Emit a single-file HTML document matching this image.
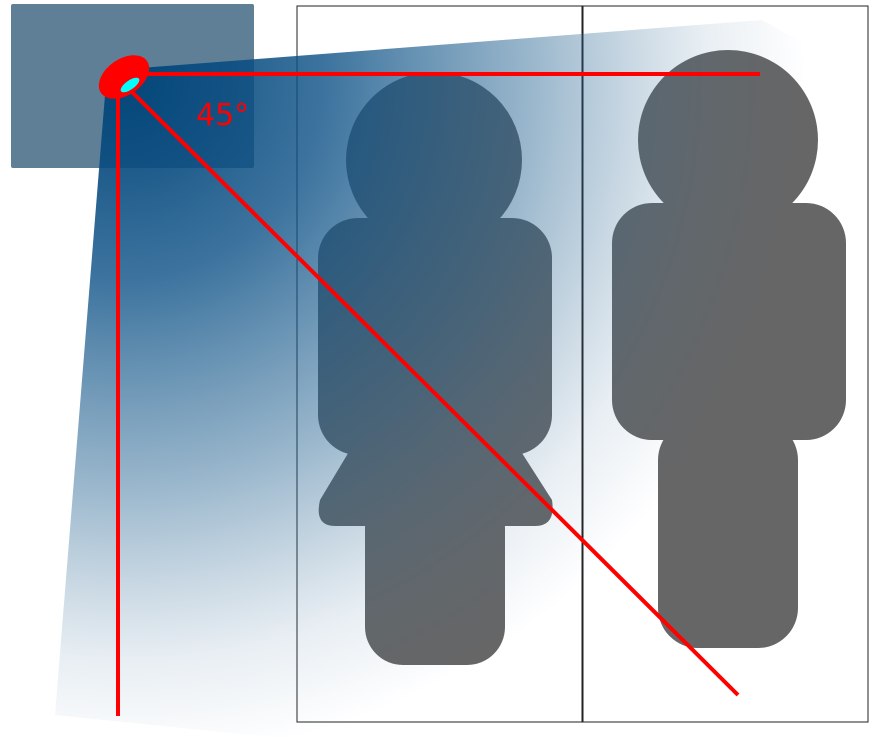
<!DOCTYPE html>
<html><head><meta charset="utf-8"><style>html,body{margin:0;padding:0;background:#fff}svg{display:block}</style></head>
<body>
<svg width="884" height="754" viewBox="0 0 884 754">
<defs>
<radialGradient id="beam" gradientUnits="userSpaceOnUse" cx="125" cy="80" r="680">
<stop offset="0" stop-color="#05477a" stop-opacity="1"/>
<stop offset="0.3" stop-color="#0e5287" stop-opacity="0.8"/>
<stop offset="0.6" stop-color="#1f5f8e" stop-opacity="0.45"/>
<stop offset="0.85" stop-color="#3a6f99" stop-opacity="0.12"/>
<stop offset="1" stop-color="#3a6f99" stop-opacity="0"/>
</radialGradient>
</defs>
<rect x="11" y="4" width="243" height="164" rx="2" fill="#5e7f96"/>
<rect x="297" y="6" width="285" height="716" fill="none" stroke="#222" stroke-width="1"/>
<rect x="583" y="6" width="285" height="716" fill="none" stroke="#222" stroke-width="1"/>
<g fill="#666">
<circle cx="434" cy="160" r="88"/>
<rect x="318" y="218" width="234" height="237" rx="40"/>
<path d="M350 450 L520 450 L552 500 Q556 526 535 526 L335 526 Q314 526 320 500 Z"/>
<rect x="365" y="490" width="140" height="175" rx="38"/>
</g>
<g fill="#666">
<circle cx="728" cy="140" r="90"/>
<rect x="612" y="203" width="234" height="237" rx="40"/>
<rect x="658" y="420" width="140" height="228" rx="40"/>
</g>
<polygon points="140,68 762,20 870,80 870,740 300,740 55,715 105,95" fill="url(#beam)"/>
<g stroke="#ff0000" stroke-width="4">
<line x1="128" y1="74" x2="760" y2="74"/>
<line x1="118" y1="90" x2="118" y2="716"/>
<line x1="130" y1="90" x2="738" y2="695"/>
</g>
<ellipse cx="124" cy="77" rx="28" ry="18" transform="rotate(-35 124 77)" fill="#ff0000"/>
<ellipse cx="130" cy="85" rx="11" ry="4.5" transform="rotate(-35 130 85)" fill="#00ffff"/>
<text x="196" y="125" font-family="DejaVu Sans, Liberation Sans, sans-serif" font-size="30" fill="#ff0000">45°</text>
</svg>
</body></html>
